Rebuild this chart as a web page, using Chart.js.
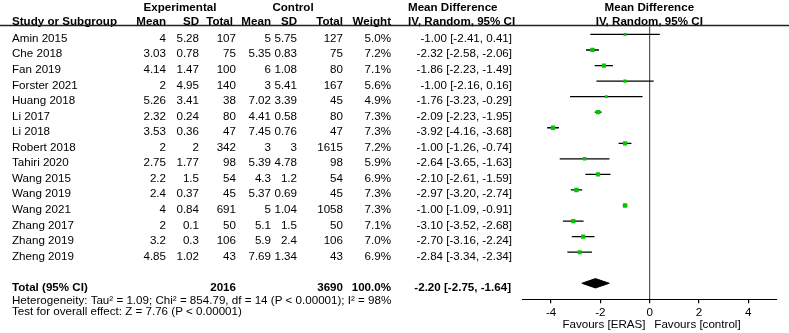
<!DOCTYPE html>
<html>
<head>
<meta charset="utf-8">
<title>Forest plot</title>
<script src="https://cdn.jsdelivr.net/npm/chart.js"></script>
<style>
  body { margin: 0; background: #fff; }
  canvas { display: block; }
</style>
</head>
<body>
<canvas id="myChart" width="789" height="333"></canvas>
<script>
const studies = ["Amin 2015", "Che 2018", "Fan 2019", "Forster 2021", "Huang 2018", "Li 2017", "Li 2018", "Robert 2018",
  "Tahiri 2020", "Wang 2015", "Wang 2019", "Wang 2021", "Zhang 2017", "Zhang 2019", "Zheng 2019"];
const expMean = [4, 3.03, 4.14, 2, 5.26, 2.32, 3.53, 2, 2.75, 2.2, 2.4, 4, 2, 3.2, 4.85];
const expSD = [5.28, 0.78, 1.47, 4.95, 3.41, 0.24, 0.36, 2, 1.77, 1.5, 0.37, 0.84, 0.1, 0.3, 1.02];
const expTotal = [107, 75, 100, 140, 38, 80, 47, 342, 98, 54, 45, 691, 50, 106, 43];
const ctlMean = [5, 5.35, 6, 3, 7.02, 4.41, 7.45, 3, 5.39, 4.3, 5.37, 5, 5.1, 5.9, 7.69];
const ctlSD = [5.75, 0.83, 1.08, 5.41, 3.39, 0.58, 0.76, 3, 4.78, 1.2, 0.69, 1.04, 1.5, 2.4, 1.34];
const ctlTotal = [127, 75, 80, 167, 45, 80, 47, 1615, 98, 54, 45, 1058, 50, 106, 43];
const weights = [5.0, 7.2, 7.1, 5.6, 4.9, 7.3, 7.3, 7.2, 5.9, 6.9, 7.3, 7.3, 7.1, 7.0, 6.9];
const md = [-1.00, -2.32, -1.86, -1.00, -1.76, -2.09, -3.92, -1.00, -2.64, -2.10, -2.97, -1.00, -3.10, -2.70, -2.84];
const ciLow = [-2.41, -2.58, -2.23, -2.16, -3.23, -2.23, -4.16, -1.26, -3.65, -2.61, -3.20, -1.09, -3.52, -3.16, -3.34];
const ciHigh = [0.41, -2.06, -1.49, 0.16, -0.29, -1.95, -3.68, -0.74, -1.63, -1.59, -2.74, -0.91, -2.68, -2.24, -2.34];

const totalExp = 2016;
const totalCtl = 3690;
const pooled = [-2.20, -2.75, -1.64]; // estimate, low, high
const xTicks = [-4, -2, 0, 2, 4];
const heterogeneity = "Heterogeneity: Tau² = 1.09; Chi² = 854.79, df = 14 (P < 0.00001); I² = 98%";
const overall = "Test for overall effect: Z = 7.76 (P < 0.00001)";

const FONT = "11.6px 'Liberation Sans', Arial, sans-serif";
const BOLD = "bold 11.6px 'Liberation Sans', Arial, sans-serif";
const totalRow = 17;
const diamondH = 0.3;

const fmt = (v) => v.toFixed(2);
const ciText = (m, lo, hi) => `${fmt(m)} [${fmt(lo)}, ${fmt(hi)}]`;

// one line dataset per study for the CI whiskers
const ciSets = studies.map((s, i) => ({
  label: s,
  data: [{ x: ciLow[i], y: i + 1 }, { x: ciHigh[i], y: i + 1 }],
  showLine: true,
  borderColor: "#000",
  borderWidth: 1.3,
  pointRadius: 0,
  order: 2,
}));

const pointSet = {
  label: "MD",
  data: md.map((m, i) => ({ x: m, y: i + 1 })),
  pointStyle: "rect",
  pointRadius: weights.map((w) => w * 0.42),
  backgroundColor: "#00c800",
  borderColor: "#00c800",
  borderWidth: 0,
  order: 0,
};

const diamondSet = {
  label: "Total",
  data: [
    { x: pooled[1], y: totalRow },
    { x: pooled[0], y: totalRow - diamondH },
    { x: pooled[2], y: totalRow },
    { x: pooled[0], y: totalRow + diamondH },
    { x: pooled[1], y: totalRow },
  ],
  showLine: true,
  fill: "shape",
  backgroundColor: "#000",
  borderColor: "#000",
  borderWidth: 1,
  pointRadius: 0,
  tension: 0,
  order: 1,
};

const tablePlugin = {
  id: "table",
  afterDraw(chart) {
    const ctx = chart.ctx;
    const y = chart.scales.y;
    const rowY = (r) => y.getPixelForValue(r) + 7.5;
    const textAt = (t, x, py, align, font) => {
      ctx.font = font || FONT;
      ctx.textAlign = align || "left";
      ctx.fillText(t, x, py);
    };
    const text = (t, x, r, align, font) => textAt(t, x, rowY(r), align, font);
    ctx.save();
    ctx.fillStyle = "#000";
    ctx.textBaseline = "alphabetic";

    // header
    text("Experimental", 180, -1, "center", BOLD);
    text("Control", 293, -1, "center", BOLD);
    text("Mean Difference", 408, -1, "left", BOLD);
    text("Mean Difference", 649.3, -1, "center", BOLD);
    text("Study or Subgroup", 12, -0.1, "left", BOLD);
    text("Mean", 166, -0.1, "right", BOLD);
    text("SD", 199, -0.1, "right", BOLD);
    text("Total", 233, -0.1, "right", BOLD);
    text("Mean", 271, -0.1, "right", BOLD);
    text("SD", 297, -0.1, "right", BOLD);
    text("Total", 343, -0.1, "right", BOLD);
    text("Weight", 391, -0.1, "right", BOLD);
    text("IV, Random, 95% CI", 408, -0.1, "left", BOLD);
    text("IV, Random, 95% CI", 649.3, -0.1, "center", BOLD);

    ctx.strokeStyle = "#222";
    ctx.lineWidth = 1.3;
    ctx.beginPath();
    ctx.moveTo(0, 25.5);
    ctx.lineTo(789, 25.5);
    ctx.stroke();

    studies.forEach((s, i) => {
      const r = i + 1;
      text(s, 12, r);
      text(String(expMean[i]), 166, r, "right");
      text(String(expSD[i]), 199, r, "right");
      text(String(expTotal[i]), 236, r, "right");
      text(String(ctlMean[i]), 271, r, "right");
      text(String(ctlSD[i]), 297, r, "right");
      text(String(ctlTotal[i]), 343, r, "right");
      text(weights[i].toFixed(1) + "%", 391, r, "right");
      text(ciText(md[i], ciLow[i], ciHigh[i]), 512, r, "right");
    });

    text("Total (95% CI)", 12, totalRow, "left", BOLD);
    text(String(totalExp), 236, totalRow, "right", BOLD);
    text(String(totalCtl), 343, totalRow, "right", BOLD);
    text("100.0%", 391, totalRow, "right", BOLD);
    text(ciText(pooled[0], pooled[1], pooled[2]), 511, totalRow, "right", BOLD);

    textAt(heterogeneity, 12, 304);
    textAt(overall, 12, 315);

    textAt("Favours [ERAS]", 645.5, 327.5, "right");
    textAt("Favours [control]", 654.3, 327.5, "left");
    ctx.restore();
  },
};

const ctx = document.getElementById("myChart").getContext("2d");
const myChart = new Chart(ctx, {
  type: "scatter",
  data: { datasets: [...ciSets, pointSet, diamondSet] },
  options: {
    responsive: false,
    animation: false,
    devicePixelRatio: 1,
    layout: { padding: { left: 522.7, right: 12.3, top: 26.5, bottom: 0 } },
    plugins: { legend: { display: false }, tooltip: { enabled: false } },
    scales: {
      x: {
        type: "linear",
        min: -5.15,
        max: 5.15,
        afterBuildTicks: (scale) => {
          scale.ticks = xTicks.map((v) => ({ value: v }));
        },
        afterFit: (scale) => {
          scale.height = 33.7;
        },
        border: { display: true, color: "#000", width: 1 },
        grid: {
          color: (c) => (c.tick && c.tick.value === 0 ? "#555" : "rgba(0,0,0,0)"),
          lineWidth: 1.2,
          tickColor: "#000",
          tickLength: 4,
        },
        ticks: {
          color: "#000",
          padding: 3,
          font: { family: "'Liberation Sans', Arial, sans-serif", size: 11.6 },
        },
      },
      y: {
        type: "linear",
        display: false,
        reverse: true,
        min: 0.49,
        max: 18.03,
      },
    },
  },
  plugins: [tablePlugin],
});
</script>
</body>
</html>
